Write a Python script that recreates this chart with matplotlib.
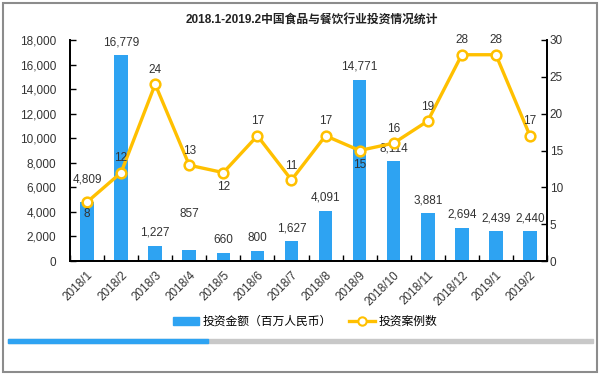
import matplotlib
matplotlib.use("Agg")
import matplotlib.pyplot as plt
from matplotlib.patches import Rectangle
from matplotlib.lines import Line2D
from matplotlib.ticker import FuncFormatter, MultipleLocator
import numpy as np

plt.rcParams['font.family'] = ['Liberation Sans', 'Noto Sans CJK SC', 'DejaVu Sans']

categories = ["2018/1", "2018/2", "2018/3", "2018/4", "2018/5", "2018/6", "2018/7",
              "2018/8", "2018/9", "2018/10", "2018/11", "2018/12", "2019/1", "2019/2"]
amounts = [4809, 16779, 1227, 857, 660, 800, 1627, 4091, 14771, 8114, 3881, 2694, 2439, 2440]
cases = [8, 12, 24, 13, 12, 17, 11, 17, 15, 16, 19, 28, 28, 17]
title = "2018.1-2019.2中国食品与餐饮行业投资情况统计"
bar_name = "投资金额（百万人民币）"
line_name = "投资案例数"

# label placement (points offset)
bar_label_offset = [12, 5, 5, 22, 5, 5, 5, 5, 5, 5, 5, 5, 5, 5]
case_label_above = [False, True, True, True, False, True, True, True, False, True, True, True, True, True]

BLUE = "#2EA3F2"
GOLD = "#FFC000"

fig = plt.figure(figsize=(6, 3.75), dpi=100)
ax = fig.add_axes([70/600, 1-261/375, (547-70)/600, (261-40)/375])
ax2 = ax.twinx()

x = np.arange(len(categories))
ax.bar(x, amounts, width=0.4, color=BLUE, zorder=2)
ax2.plot(x, cases, color=GOLD, lw=2.4, marker='o', ms=7, mfc='white', mec=GOLD, mew=1.8, zorder=3)

ax.set_xlim(-0.5, len(categories) - 0.5)
ax.set_ylim(0, 18000)
ax2.set_ylim(0, 30)
ax.yaxis.set_major_locator(MultipleLocator(2000))
ax2.yaxis.set_major_locator(MultipleLocator(5))
ax.yaxis.set_major_formatter(FuncFormatter(lambda v, p: f"{int(v):,}"))

for a in (ax, ax2):
    a.spines['top'].set_visible(False)
    for sp in ['left', 'right', 'bottom']:
        a.spines[sp].set_linewidth(1.3)
        a.spines[sp].set_color('black')

ax.set_xticks(x)
ax.set_xticklabels(categories, rotation=45, ha='right', rotation_mode='anchor', fontsize=8.5, color='#333333')
ax.set_xticks(np.arange(len(categories) + 1) - 0.5, minor=True)
ax.tick_params(axis='x', which='major', length=0, pad=6)
ax.tick_params(axis='x', which='minor', direction='in', length=4, width=1)
ax.tick_params(axis='y', direction='in', length=4, width=1, labelsize=8.5, labelcolor='#333333', pad=10)
ax2.tick_params(axis='y', direction='in', length=4, width=1, labelsize=8.5, labelcolor='#333333', pad=2)

for i, v in enumerate(amounts):
    ax.annotate(f"{v:,}", (x[i], v), xytext=(0, bar_label_offset[i]), textcoords='offset points',
                ha='center', va='bottom', fontsize=8.5, color='#333333', zorder=5, annotation_clip=False)
for i, v in enumerate(cases):
    if case_label_above[i]:
        ax2.annotate(str(v), (x[i], v), xytext=(0, 6), textcoords='offset points',
                     ha='center', va='bottom', fontsize=8.5, color='#333333', zorder=5)
    else:
        ax2.annotate(str(v), (x[i], v), xytext=(0, -4 if i == 0 else -6), textcoords='offset points',
                     ha='center', va='top', fontsize=8.5, color='#333333', zorder=5)

fig.text(312/600, 1-21/375, title, ha='center', va='center', fontsize=8.5, fontweight='bold', color='#222222')

handles = [Rectangle((0, 0), 1, 1, color=BLUE),
           Line2D([], [], color=GOLD, lw=2.4, marker='o', ms=6, mfc='white', mec=GOLD, mew=1.5)]
fig.legend(handles, [bar_name, line_name], loc='center', bbox_to_anchor=(305/600, 1-322/375),
           ncol=2, frameon=False, fontsize=8.5, handlelength=2.2, handleheight=0.6, columnspacing=1.5,
           handletextpad=0.3)

# progress bar decoration
fig.patches.append(Rectangle((8/600, 1-343/375), (593-8)/600, 4/375, transform=fig.transFigure,
                             color='#C8C8C8', zorder=1))
fig.patches.append(Rectangle((8/600, 1-343/375), (208-8)/600, 4/375, transform=fig.transFigure,
                             color=BLUE, zorder=2))
# border
fig.patches.append(Rectangle((3/600, 3/375), 594/600, 369/375, transform=fig.transFigure,
                             fill=False, edgecolor='#8C8C8C', lw=1.5, zorder=3))

fig.savefig("out.png", dpi=100)
